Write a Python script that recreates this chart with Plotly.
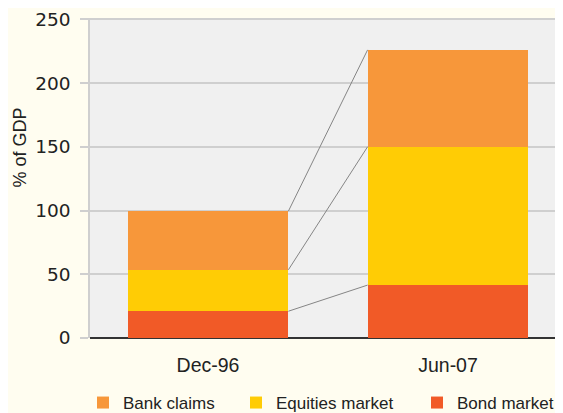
import plotly.graph_objects as go

# Data (% of GDP)
periods = ['Dec-96', 'Jun-07']
bond_market = [21, 41.5]
equities_market = [32.5, 108.5]
bank_claims = [46, 76]

x_pos = [0, 1]
bar_w = 0.67

FONT = 'Liberation Sans, Arial, sans-serif'

fig = go.Figure()

# one legend per series so the three keys sit where they do in the original
fig.add_trace(go.Bar(x=x_pos, y=bond_market, name='Bond market', legend='legend3',
                     marker=dict(color='#f15a27', line_width=0), width=bar_w))
fig.add_trace(go.Bar(x=x_pos, y=equities_market, name='Equities market', legend='legend2',
                     marker=dict(color='#ffcc05', line_width=0), width=bar_w))
fig.add_trace(go.Bar(x=x_pos, y=bank_claims, name='Bank claims', legend='legend',
                     marker=dict(color='#f7973a', line_width=0), width=bar_w))

# connector lines between cumulative levels of the two bars
cum0, cum1 = 0, 0
for series in [bond_market, equities_market, bank_claims]:
    cum0 += series[0]
    cum1 += series[1]
    fig.add_trace(go.Scatter(x=[x_pos[0] + bar_w / 2, x_pos[1] - bar_w / 2],
                             y=[cum0, cum1], mode='lines',
                             line=dict(color='#858585', width=1),
                             showlegend=False, hoverinfo='skip'))

leg_common = dict(orientation='h', xanchor='left', yref='container', y=0.0436,
                  yanchor='middle', xref='container', font=dict(size=17),
                  bgcolor='rgba(0,0,0,0)')

fig.update_layout(
    width=563, height=413,
    barmode='stack',
    paper_bgcolor='#fffdf0',
    plot_bgcolor='#f0f0f0',
    font=dict(family=FONT, color='#222222', size=16),
    margin=dict(l=82, r=0, t=10, b=83, autoexpand=False),
    legend=dict(x=0.1332, **leg_common),
    legend2=dict(x=0.405, **leg_common),
    legend3=dict(x=0.7265, **leg_common),
    bargap=0,
    annotations=[dict(text='% of GDP', textangle=-90, xref='paper', yref='paper',
                      x=-0.1455, y=0.595, xanchor='center', yanchor='middle',
                      showarrow=False, font=dict(size=18))],
)
fig.update_xaxes(range=[-0.4917, 1.5125], tickvals=x_pos, ticktext=periods,
                 showgrid=False, zeroline=False, tickfont=dict(size=19.5),
                 showline=False, ticks='', ticklabelstandoff=13)
fig.update_yaxes(range=[0, 251], tickvals=[0, 50, 100, 150, 200, 250],
                 showgrid=True, gridcolor='#cfcfcf',
                 gridwidth=1.5, zeroline=True, zerolinecolor='#333333', zerolinewidth=2,
                 showline=True, linecolor='#cfcfcf', linewidth=1.5,
                 ticks='outside', ticklen=8, tickcolor='#cfcfcf', tickwidth=1.5,
                 ticklabelstandoff=6, ticklabeloverflow='allow',
                 tickfont=dict(size=18.5, family='DejaVu Sans'))

fig.write_html('out.html')
